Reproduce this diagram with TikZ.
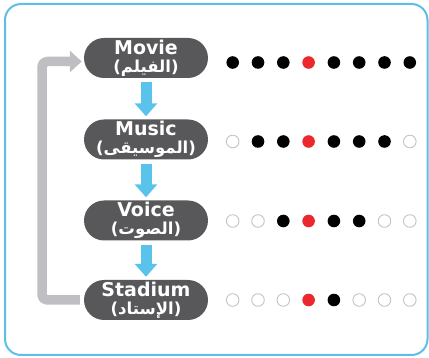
\documentclass[tikz,border=0pt]{standalone}
\usepackage{fontspec}
\setmainfont{DejaVu Sans}
\newfontfamily\arabicfont[Script=Arabic]{DejaVu Sans}
\TeXXeTstate=1
\usetikzlibrary{arrows.meta}
\definecolor{framecol}{RGB}{95,190,230}
\definecolor{flowcol}{RGB}{90,195,235}
\definecolor{boxcol}{RGB}{88,88,90}
\definecolor{backcol}{RGB}{190,190,195}
\definecolor{redcol}{RGB}{235,40,45}
\definecolor{ringcol}{RGB}{195,195,195}
\newcommand\artext[1]{{\fontsize{16.5}{16}\selectfont({\arabicfont\beginR #1\endR})}}
\begin{document}
\begin{tikzpicture}[x=1pt, y=-1pt, line join=round,
  term/.style={fill=boxcol, rounded corners=20pt, minimum width=124pt, minimum height=40pt,
    inner sep=0pt, text=white, align=center, font=\bfseries\fontsize{19}{18}\selectfont},
  flow/.style={draw=flowcol, line width=11pt, -{Triangle[width=22pt,length=13pt]},
    shorten <=4pt, shorten >=3pt},
  back/.style={draw=backcol, line width=9.5pt, rounded corners=5pt, -{Triangle[width=21pt,length=12pt]},
    shorten <=4pt, shorten >=2pt},
  full/.style={fill=black},
  mid/.style={fill=redcol},
  ring/.style={draw=ringcol, line width=0.9pt}]
\useasboundingbox (0,0) rectangle (429,358);
\draw[framecol, line width=2pt, rounded corners=16pt] (5,4) rectangle (427.5,355);
% the four terms
\node[term] (movie) at (146,58) {Movie\\\artext{الفيلم}};
\node[term] (music) at (146,139.5) {Music\\\artext{الموسيقى}};
\node[term] (voice) at (146,220.5) {Voice\\\artext{الصوت}};
\node[term] (stadium) at (146,300) {Stadium\\\artext{الإستاد}};
\draw[flow] (movie) -- (music);
\draw[flow] (music) -- (voice);
\draw[flow] (voice) -- (stadium);
\coordinate (corner) at (42,300);
\draw[back] (stadium.west) -- (corner) -- (42,61.5) -- (movie.west |- 0,61.5);
% dots
\foreach \y/\row in {62.5/{full,full,full,mid,full,full,full,full}, 141.5/{ring,full,full,mid,full,full,full,ring},
  221/{ring,ring,full,mid,full,full,ring,ring}, 300/{ring,ring,ring,mid,full,ring,ring,ring}}
  \foreach \s [count=\i from 0] in \row
    \path[\s] (232.7+25.3*\i,\y) circle (6.3pt);
\end{tikzpicture}
\end{document}
